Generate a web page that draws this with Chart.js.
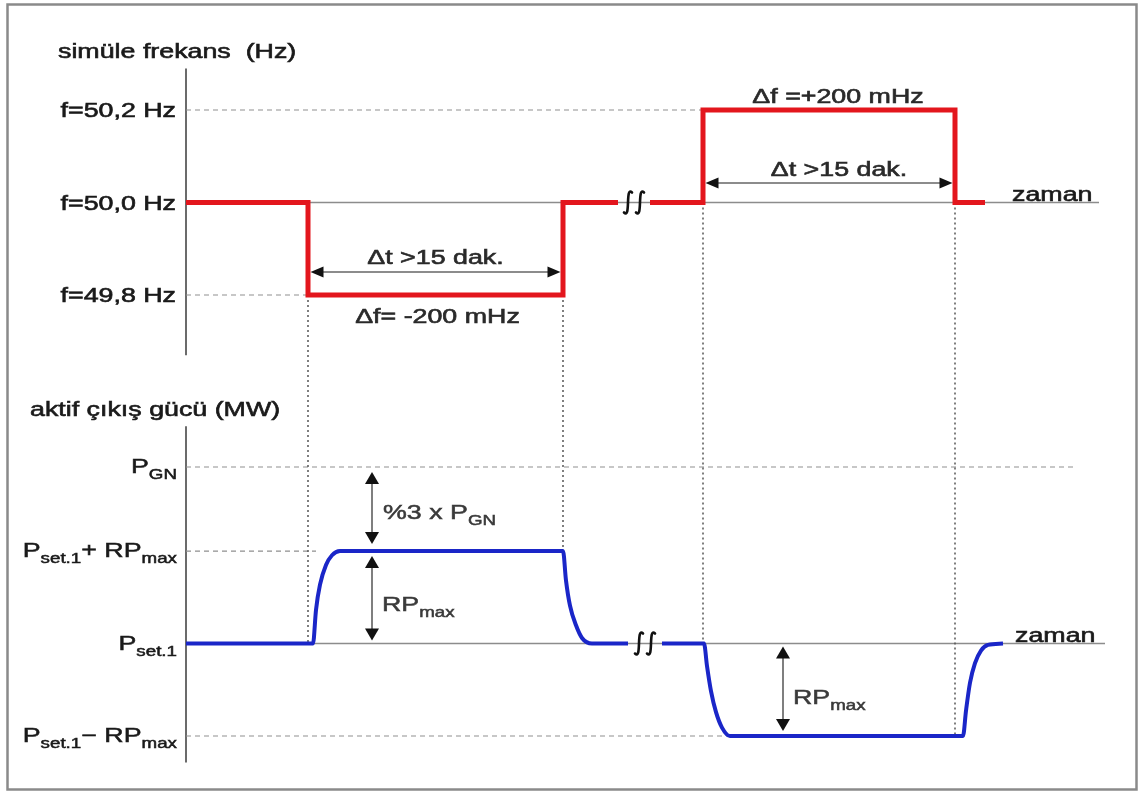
<!DOCTYPE html>
<html>
<head>
<meta charset="utf-8">
<title>simüle frekans / aktif çıkış gücü</title>
<script src="https://cdn.jsdelivr.net/npm/chart.js@4.4.0/dist/chart.umd.min.js"></script>
<style>
html, body { margin: 0; padding: 0; background: #fff; }
#wrap { position: relative; width: 1146px; height: 793px; }
</style>
</head>
<body>
<div id="wrap"><canvas id="mycanvas" width="1146" height="793"></canvas></div>
<script>
// time in schematic units (0 = y axis), null = break in the time axis
var freqTime = [0, 122, 122, 377, 377, 432, 448, 464, 517, 517, 769, 769, 799];
var freqHz   = [50.0, 50.0, 49.8, 49.8, 50.0, 50.0, null, 50.0, 50.0, 50.2, 50.2, 50.0, 50.0];

var powerTime = [0, 127, 130, 134, 140, 146, 154, 377, 380, 384, 390, 396, 406, 442, 459,
                 476, 518, 521, 525, 530, 536, 544, 777, 780, 784, 789, 795, 802, 817];
var powerMW   = [93.7, 93.7, 94.9, 95.8, 96.5, 96.85, 97.0, 97.0, 95.95, 95.05, 94.35, 93.9, 93.7, 93.7, null,
                 93.7, 93.7, 92.9, 92.0, 91.25, 90.7, 90.4, 90.4, 91.3, 92.3, 93.0, 93.45, 93.65, 93.7];

var freqTicks = [50.2, 50.0, 49.8];
var freqTickLabels = ['f=50,2 Hz', 'f=50,0 Hz', 'f=49,8 Hz'];

// P_GN = 100, P_set.1 = 93.7, RP_max = 3.3  (3% of P_GN between P_GN and P_set.1+RP_max)
var powerTicks = [100, 97.0, 93.7, 90.4];
var powerTickLabels = [
  [['P', 0], ['GN', 1]],
  [['P', 0], ['set.1', 1], ['+ RP', 0], ['max', 1]],
  [['P', 0], ['set.1', 1]],
  [['P', 0], ['set.1', 1], ['\u2212 RP', 0], ['max', 1]]
];

var W = 1146, H = 793;
var SX = 1.34;   // text in the picture is drawn wide
var FONT = '"Liberation Sans", Arial, sans-serif';

// value range of a scale so that v1 lands on pixel p1 and v2 on pixel p2
function fitRange(v1, p1, v2, p2, size) {
  var k = (v1 - v2) / (p2 - p1);
  var max = v1 + p1 * k;
  return { min: max - size * k, max: max };
}
var xr = { min: -186, max: W - 186 };
var fr = fitRange(50.2, 110, 49.8, 295, H);
var pr = fitRange(100, 467, 90.4, 736, H);

function seg(ctx, x1, y1, x2, y2) {
  ctx.beginPath(); ctx.moveTo(x1, y1); ctx.lineTo(x2, y2); ctx.stroke();
}
function text(ctx, s, x, y, align, size, color) {
  ctx.save();
  ctx.font = size + 'px ' + FONT;
  ctx.fillStyle = color;
  ctx.strokeStyle = color;
  ctx.lineWidth = 0.6;
  ctx.textAlign = align;
  ctx.textBaseline = 'alphabetic';
  ctx.translate(x, y); ctx.scale(SX, 1);
  ctx.fillText(s, 0, 0);
  ctx.strokeText(s, 0, 0);
  ctx.restore();
}
function rich(ctx, parts, x, y, align, color) {
  ctx.save();
  ctx.fillStyle = color;
  ctx.strokeStyle = color;
  ctx.lineWidth = 0.5;
  ctx.textAlign = 'left';
  var w = 0;
  parts.forEach(function(p) {
    ctx.font = (p[1] ? 14 : 20) + 'px ' + FONT;
    w += ctx.measureText(p[0]).width;
  });
  var cx = align == 'right' ? -w : (align == 'center' ? -w / 2 : 0);
  ctx.translate(x, y); ctx.scale(SX, 1);
  parts.forEach(function(p) {
    ctx.font = (p[1] ? 14 : 20) + 'px ' + FONT;
    ctx.fillText(p[0], cx, p[1] ? 6 : 0);
    ctx.strokeText(p[0], cx, p[1] ? 6 : 0);
    cx += ctx.measureText(p[0]).width;
  });
  ctx.restore();
}
function hArrow(ctx, x1, x2, y) {
  ctx.strokeStyle = '#666'; ctx.lineWidth = 1.5;
  seg(ctx, x1 + 6, y, x2 - 6, y);
  ctx.fillStyle = '#111';
  ctx.beginPath(); ctx.moveTo(x1, y); ctx.lineTo(x1 + 13, y - 5.5); ctx.lineTo(x1 + 13, y + 5.5); ctx.fill();
  ctx.beginPath(); ctx.moveTo(x2, y); ctx.lineTo(x2 - 13, y - 5.5); ctx.lineTo(x2 - 13, y + 5.5); ctx.fill();
}
function vArrow(ctx, x, y1, y2) {
  ctx.strokeStyle = '#555'; ctx.lineWidth = 1.5;
  seg(ctx, x, y1 + 6, x, y2 - 6);
  ctx.fillStyle = '#111';
  ctx.beginPath(); ctx.moveTo(x, y1); ctx.lineTo(x - 7, y1 + 12); ctx.lineTo(x + 7, y1 + 12); ctx.fill();
  ctx.beginPath(); ctx.moveTo(x, y2); ctx.lineTo(x - 7, y2 - 12); ctx.lineTo(x + 7, y2 - 12); ctx.fill();
}
function squiggle(ctx, cx, cy) {
  ctx.strokeStyle = '#111'; ctx.lineWidth = 2.6; ctx.lineCap = 'round';
  [-6, 6].forEach(function(d) {
    var x = cx + d;
    ctx.beginPath();
    ctx.moveTo(x + 4, cy - 10);
    ctx.bezierCurveTo(x - 3, cy - 17, x + 3, cy + 17, x - 4, cy + 10);
    ctx.stroke();
  });
  ctx.lineCap = 'butt';
}

var schema = {
  id: 'schema',
  beforeDatasetsDraw: function(chart) {
    var ctx = chart.ctx;
    var X = function(t) { return chart.scales.x.getPixelForValue(t); };
    var F = function(v) { return chart.scales.yF.getPixelForValue(v); };
    var P = function(v) { return chart.scales.yP.getPixelForValue(v); };
    ctx.save();
    // frame
    ctx.strokeStyle = '#8a8a8a'; ctx.lineWidth = 2.5;
    ctx.strokeRect(7.5, 4.5, 1129, 785);

    // vertical axes
    ctx.strokeStyle = '#3a3a3a'; ctx.lineWidth = 1.5;
    seg(ctx, X(0), F(50.29), X(0), F(49.67));
    seg(ctx, X(0), P(101.45), X(0), P(89.45));

    // time axes (zaman)
    ctx.strokeStyle = '#8c8c8c'; ctx.lineWidth = 1.5;
    seg(ctx, X(0), F(50.0), X(913), F(50.0));
    seg(ctx, X(0), P(93.7), X(919), P(93.7));

    // dashed level lines
    ctx.setLineDash([5, 4]); ctx.strokeStyle = '#8f8f8f'; ctx.lineWidth = 1.2;
    seg(ctx, X(0), F(50.2), X(517), F(50.2));
    seg(ctx, X(0), F(49.8), X(122), F(49.8));
    seg(ctx, X(0), P(100), X(889), P(100));
    seg(ctx, X(0), P(97.0), X(130), P(97.0));
    seg(ctx, X(0), P(90.4), X(544), P(90.4));

    // dotted time markers
    ctx.setLineDash([2, 3]); ctx.strokeStyle = '#555'; ctx.lineWidth = 1.5;
    seg(ctx, X(122), F(49.8), X(122), P(93.7));
    seg(ctx, X(377), F(49.8), X(377), P(97.0));
    seg(ctx, X(517), F(50.0), X(517), P(93.7));
    seg(ctx, X(769), F(50.0), X(769), P(90.4));
    ctx.setLineDash([]);
    ctx.restore();
  },
  afterDatasetsDraw: function(chart) {
    var ctx = chart.ctx;
    var X = function(t) { return chart.scales.x.getPixelForValue(t); };
    var F = function(v) { return chart.scales.yF.getPixelForValue(v); };
    var P = function(v) { return chart.scales.yP.getPixelForValue(v); };
    ctx.save();

    // axis titles
    text(ctx, 'simüle frekans  (Hz)', 58, F(50.29) - 10, 'left', 20, '#1a1a1a');
    text(ctx, 'aktif çıkış gücü (MW)', 30, P(101.45) - 10, 'left', 20, '#1a1a1a');

    // tick labels
    freqTicks.forEach(function(v, i) {
      text(ctx, freqTickLabels[i], X(0) - 10, F(v) + 7, 'right', 20, '#1a1a1a');
    });
    powerTicks.forEach(function(v, i) {
      rich(ctx, powerTickLabels[i], X(0) - 9, P(v) + 6, 'right', '#1a1a1a');
    });

    // zaman
    text(ctx, 'zaman', 1012, F(50.0) - 2, 'left', 20, '#1a1a1a');
    text(ctx, 'zaman', 1015, P(93.7) - 2, 'left', 20, '#1a1a1a');

    // breaks in the time axis
    squiggle(ctx, X(448), F(50.0));
    squiggle(ctx, X(459), P(93.7));

    // frequency annotations
    hArrow(ctx, X(122) + 2.5, X(377) - 2.5, F(49.85));
    text(ctx, '\u0394t >15 dak.', (X(122) + X(377)) / 2, F(49.85) - 8, 'center', 20, '#2a2a2a');
    text(ctx, '\u0394f= -200 mHz', (X(122) + X(377)) / 2 + 2, F(49.8) + 28, 'center', 20, '#2a2a2a');

    hArrow(ctx, X(517) + 2.5, X(769) - 2.5, F(50.042));
    text(ctx, '\u0394t >15 dak.', (X(517) + X(769)) / 2 + 10, F(50.042) - 7, 'center', 20, '#2a2a2a');
    text(ctx, '\u0394f =+200 mHz', (X(517) + X(769)) / 2 + 9, F(50.2) - 7, 'center', 20, '#2a2a2a');

    // power annotations
    vArrow(ctx, X(186), P(100) + 5, P(97.0) - 7);
    rich(ctx, [['%3 x P', 0], ['GN', 1]], X(186) + 11, P(98.4) + 7, 'left', '#3a3a3a');
    vArrow(ctx, X(186), P(97.0) + 5, P(93.7) - 3);
    rich(ctx, [['RP', 0], ['max', 1]], X(186) + 10, P(95.1) + 7, 'left', '#3a3a3a');
    vArrow(ctx, X(597), P(93.7) + 3, P(90.4) - 5);
    rich(ctx, [['RP', 0], ['max', 1]], X(597) + 10, P(91.8) + 7, 'left', '#3a3a3a');

    ctx.restore();
  }
};

var ctx = document.getElementById('mycanvas').getContext('2d');
var chart = new Chart(ctx, {
  type: 'line',
  data: {
    datasets: [
      {
        label: 'simüle frekans',
        data: freqTime.map(function(t, i) { return { x: t, y: freqHz[i] }; }),
        yAxisID: 'yF',
        borderColor: '#e3161d',
        borderWidth: 5,
        pointRadius: 0,
        tension: 0,
        spanGaps: false,
        borderJoinStyle: 'miter'
      },
      {
        label: 'aktif çıkış gücü',
        data: powerTime.map(function(t, i) { return { x: t, y: powerMW[i] }; }),
        yAxisID: 'yP',
        borderColor: '#1a26c8',
        borderWidth: 4,
        pointRadius: 0,
        cubicInterpolationMode: 'monotone',
        spanGaps: false
      }
    ]
  },
  options: {
    responsive: false,
    animation: false,
    events: [],
    layout: { padding: 0 },
    plugins: { legend: { display: false }, tooltip: { enabled: false } },
    scales: {
      x: { type: 'linear', display: false, min: xr.min, max: xr.max },
      yF: { type: 'linear', display: false, min: fr.min, max: fr.max },
      yP: { type: 'linear', display: false, min: pr.min, max: pr.max }
    }
  },
  plugins: [schema]
});
</script>
</body>
</html>
